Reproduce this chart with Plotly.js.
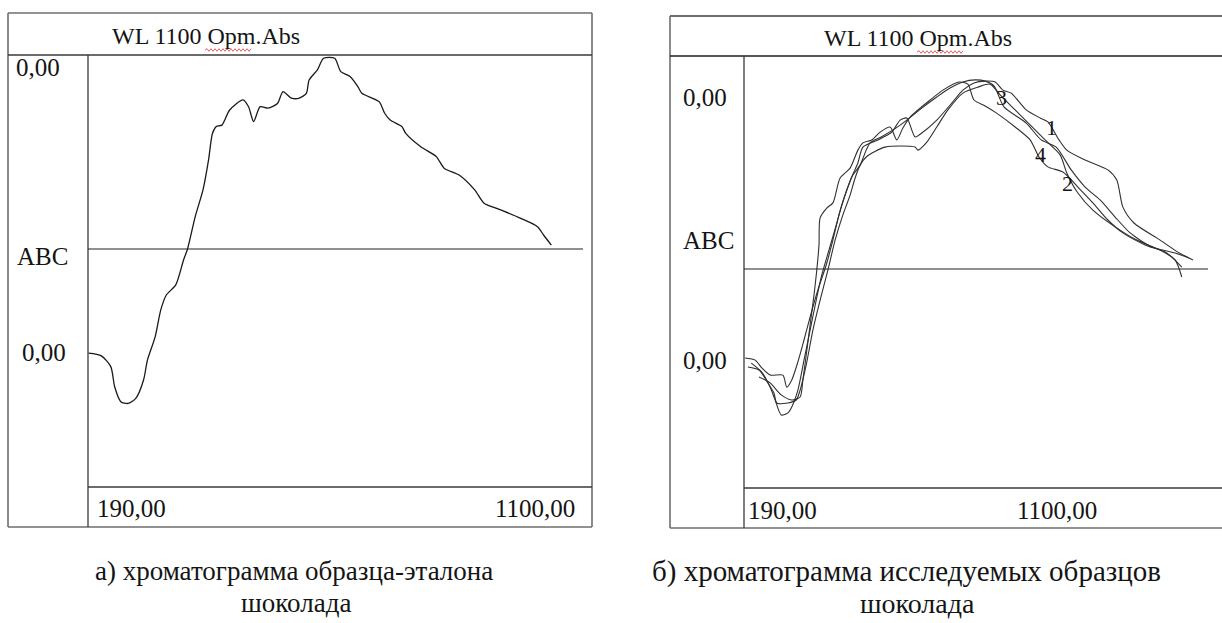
<!DOCTYPE html>
<html>
<head>
<meta charset="utf-8">
<script src="https://cdn.plot.ly/plotly-3.0.1.min.js"></script>
<style>html,body{margin:0;padding:0;background:#fff;}#chart{width:1222px;height:623px;}</style>
</head>
<body>
<div id="chart"></div>
<script>
// ---------- DATA ----------
// panel (a): reference sample, wavelength (nm) and relative absorbance (%)
const refNm  = [191,214,231,238,249,262,276,290,297,311,321,331,348,362,369,383,397,407,414,421,431,445,469,479,488,500,514,531,541,555,569,583,588,603,614,634,645,662,676,683,714,724,734,755,762,789,817,831,858,886,903,934,969,999,1010,1024];
const refAbs = [0.6,-0.3,-3.9,-10.7,-15.7,-16.3,-14.6,-8.4,-1.7,6.2,15.2,20.2,23.6,32.0,35.6,46.6,55.6,65.7,74.6,76.9,77.4,82.5,85.9,83.6,78.6,83.6,83.1,84.7,88.7,86.6,86.4,88.1,92.6,96.0,99.9,99.9,95.4,93.7,90.3,88.1,85.3,81.4,79.1,76.9,74.6,70.1,66.8,62.9,60.6,55.6,51.1,48.8,46.0,43.2,40.4,37.0];

// panel (b): studied samples 1-4
const s1Nm  = [192,210,222,237,260,267,276,287,298,311,323,338,350,361,372,383,395,404,431,456,471,483,498,510,537,564,584,604,624,642,656,671,698,723,737,757,771,804,845,861,872,892,939,971,998];
const s1Abs = [0,-0.7,-3.3,-5.7,-5.7,-9.7,-7.3,-1.3,6,15,22.7,31,39.3,47.7,54.3,60,65,70.3,72.7,75.3,79.3,80,73.7,75,79.3,85,89.3,91.7,92.3,92,89.3,88.3,82.7,80,78.7,72.7,69.3,66,62.7,59.3,50.3,45,39.3,35.3,32.7];
const s2Nm  = [197,217,233,244,249,269,284,291,302,314,327,341,354,368,381,390,399,410,444,498,503,518,537,557,584,611,633,651,678,705,732,759,771,791,818,858,897,939,966,978];
const s2Abs = [-3,-4,-8.3,-11.7,-15,-15,-14,-10.7,-2.3,9.3,19.3,29.3,39.3,47.7,54.3,60,64.3,67,70.3,70.3,69.3,71.7,77,82.7,88.3,90.3,91.3,87.7,82.7,77.7,72.7,67.7,61.7,55,49.3,43.7,39.3,36,32.7,27];
const s3Nm  = [203,222,237,246,257,269,276,287,298,309,320,330,343,356,366,375,386,399,410,417,437,464,483,510,537,561,584,606,624,640,658,698,725,752,779,804,831,858,885,924,966,991];
const s3Abs = [-1.7,-4.7,-9.7,-14,-19,-18.3,-16.3,-10.7,-0.7,9.3,19.3,27.7,36,44.3,51,56,61,64.3,69.3,71.7,73.7,76.7,79.3,83.3,87,90,92,92.7,92.3,90.7,83.7,78.3,72.7,70.3,62.7,57,52.7,47,41.7,37,35,33.3];
const s4Nm  = [217,237,257,276,291,296,302,309,316,321,325,327,339,350,363,381,395,404,420,435,453,465,476,489,525,548,577,593,604,624,644,678,705,721,737,764,791,818,845,872,912,951,978];
const s4Abs = [-6.3,-8.3,-12.3,-14,-13,-7.3,1,11,21,29.3,37.7,46.7,50,51.7,60,63.3,69.3,71.7,72.7,75.3,77,72.7,76.7,80.3,86,89.3,92,91.3,86,84,81.7,77,72.7,67,63.7,62,57,51.7,46,41.7,37.7,35,30.3];

const sampleNames = ['1','2','3','4'];
const labelNm  = [743,773,654,723];
const labelAbs = [77,58.3,87,68];

const panelTitle = 'WL 1100 Opm.Abs';
const yTickLabels = ['0,00','ABC','0,00'];
const xTickLabels = ['190,00','1100,00'];
const captionA = ['а) хроматограмма образца-эталона','шоколада'];
const captionB = ['б) хроматограмма исследуемых образцов','шоколада'];

// ---------- LAYOUT HELPERS ----------
const W = 1222, H = 623;
const px = x => x / W;
const py = y => 1 - y / H;
const FONT = '"Liberation Serif", "Times New Roman", "DejaVu Serif", serif';
const INK = '#141414';

const traces = [
  {x: refNm, y: refAbs, xaxis: 'x', yaxis: 'y', mode: 'lines',
   line: {color: '#1a1a1a', width: 1.3, shape: 'spline', smoothing: 0.7}, hoverinfo: 'skip'}
];
const sData = [[s1Nm,s1Abs],[s2Nm,s2Abs],[s3Nm,s3Abs],[s4Nm,s4Abs]];
sData.forEach(d => traces.push({x: d[0], y: d[1], xaxis: 'x2', yaxis: 'y2', mode: 'lines',
  line: {color: '#303030', width: 1.1, shape: 'spline', smoothing: 0.7}, hoverinfo: 'skip'}));

function line(x0,y0,x1,y1,color,width){
  return {type:'line', xref:'paper', yref:'paper', x0:px(x0), y0:py(y0), x1:px(x1), y1:py(y1),
          line:{color:color, width:width}};
}
function wavy(x0,x1,y){
  let d = 'M ' + px(x0) + ',' + py(y);
  let up = true;
  for (let x = x0 + 2; x <= x1; x += 2) {
    d += ' L ' + px(x) + ',' + py(y + (up ? -1.3 : 1.3));
    up = !up;
  }
  return {type:'path', xref:'paper', yref:'paper', path:d, line:{color:'#d23b3b', width:0.8}};
}
// spell-check wave under "Opm" of a centred title
const TS = 24;
function titleWave(cx, y){
  const w = 7.92 * TS;
  const s = cx - w / 2 + 0.495 * w;
  return wavy(s, s + 0.25 * w, y);
}

const boxC = '#6e6e6e', inC = '#3a3a3a';
const shapes = [
  // panel (a) frame
  line(8,13,592,13,boxC,1.6), line(8,527,592,527,boxC,1.6),
  line(8,13,8,527,boxC,1.6), line(592,13,592,527,boxC,1.6),
  line(8,55,592,55,inC,1.3), line(88,55,88,527,inC,1.3), line(88,487,592,487,inC,1.3),
  line(88,249,583,249,'#222',1.2),
  titleWave(206,50),
  // panel (b) frame (cut at right)
  line(670,16,1222,16,boxC,1.8), line(670,528,1222,528,boxC,1.6),
  line(670,16,670,528,boxC,1.6),
  line(670,56,1222,56,'#1e1e1e',1.5), line(744,56,744,528,inC,1.3), line(744,488,1222,488,inC,1.3),
  line(744,269,1208,269,'#222',1.2),
  titleWave(918,52)
];

function txt(text,x,y,size,anchor){
  return {text:text, xref:'paper', yref:'paper', x:px(x), y:py(y), xanchor:anchor||'left', yanchor:'middle',
          showarrow:false, font:{family:FONT, size:size, color:INK}};
}
const LS = 25;
const annotations = [
  txt(panelTitle,206,36,TS,'center'),
  txt(yTickLabels[0],14,68,LS), txt(yTickLabels[1],15,257,LS), txt(yTickLabels[2],20,352,LS),
  txt(xTickLabels[0],95,508,LS), txt(xTickLabels[1],577,508,LS,'right'),
  txt(panelTitle,918,38,TS,'center'),
  txt(yTickLabels[0],681,97,LS), txt(yTickLabels[1],681,240,LS), txt(yTickLabels[2],681,360,LS),
  txt(xTickLabels[0],746,510,LS), txt(xTickLabels[1],1015,510,LS),
  txt(captionA[0],294,571,27,'center'), txt(captionA[1],296,603,27,'center'),
  txt(captionB[0],650,571,29,'left'), txt(captionB[1],918,603,28,'center')
];
sampleNames.forEach((n,i) => annotations.push({text:n, xref:'x2', yref:'y2', x:labelNm[i], y:labelAbs[i],
  showarrow:false, xanchor:'center', yanchor:'middle', font:{family:FONT, size:22, color:INK}}));

const ax = {showgrid:false, zeroline:false, showline:false, ticks:'', showticklabels:false, fixedrange:true};
const layout = {
  width: W, height: H, margin: {l:0, r:0, t:0, b:0},
  font: {family: FONT},
  paper_bgcolor: '#fff', plot_bgcolor: 'rgba(0,0,0,0)', showlegend: false,
  xaxis:  Object.assign({}, ax, {domain:[px(88), px(592)], range:[190, 1097.2]}),
  yaxis:  Object.assign({}, ax, {domain:[py(487), py(56)], range:[-44.44, 100.67]}),
  xaxis2: Object.assign({}, ax, {domain:[px(744), 1], range:[190, 1050.4], anchor:'y2'}),
  yaxis2: Object.assign({}, ax, {domain:[py(487), py(56)], range:[-43, 100.67], anchor:'x2'}),
  shapes: shapes, annotations: annotations
};
Plotly.newPlot('chart', traces, layout, {staticPlot: true, displayModeBar: false});
</script>
</body>
</html>
